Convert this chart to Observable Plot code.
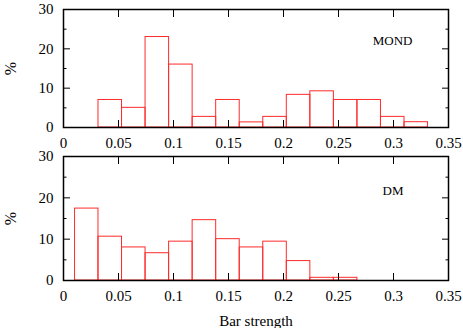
<!DOCTYPE html>
<html>
<head>
<meta charset="utf-8">
<script src="https://cdn.jsdelivr.net/npm/d3@7"></script>
<script src="https://cdn.jsdelivr.net/npm/@observablehq/plot@0.6"></script>
<style>
  body { margin: 0; background: white; }
  #chart svg { display: block; }
</style>
</head>
<body>
<div id="chart"></div>
<script>
// Histogram bin edges (bar strength)
const binEdges = [0.0105, 0.0318, 0.0532, 0.0746, 0.096, 0.1174, 0.1388, 0.1602, 0.1816, 0.203, 0.2244, 0.2458, 0.2672, 0.2886, 0.31, 0.3314];
// Percentages per bin
const mondPct = [0, 7.0, 5.0, 23.0, 16.0, 2.7, 7.0, 1.3, 2.7, 8.3, 9.2, 7.0, 7.0, 2.7, 1.35];
const dmPct   = [17.4, 10.6, 8.0, 6.6, 9.4, 14.6, 10.0, 8.0, 9.4, 4.7, 0.65, 0.65, 0, 0, 0];
const panelLabels = ["MOND", "DM"];
const xTicks = [0, 0.05, 0.1, 0.15, 0.2, 0.25, 0.3, 0.35];
const xTickLabels = ["0", "0.05", "0.1", "0.15", "0.2", "0.25", "0.3", "0.35"];
const yMajor = [0, 10, 20, 30];
const yMinor = [5, 15, 25];
const yLabel = "%";
const xLabel = "Bar strength";

function bins(pcts) {
  return pcts.map((v, i) => ({lo: binEdges[i], hi: binEdges[i + 1], v})).filter(d => d.v > 0);
}

const RED = "#ff2b2b";
const FONT = "'Liberation Serif', 'Times New Roman', serif";

function panel(pcts, name, {height, marginTop, marginBottom, bottomLabel, nameDx, nameDy}) {
  const marks = [
    Plot.rectY(bins(pcts), {x1: "lo", x2: "hi", y1: 0, y2: "v", fill: "none", stroke: RED, strokeWidth: 1}),
    Plot.frame({stroke: "black", strokeWidth: 1.5}),
    // inward ticks
    Plot.axisX({anchor: "bottom", ticks: xTicks, tickSize: 7, dy: -7, fill: "none", label: null}),
    Plot.axisX({anchor: "top", ticks: xTicks, tickSize: 7, dy: 7, fill: "none", label: null}),
    Plot.axisY({anchor: "left", ticks: yMajor, tickSize: 7, dx: 7, fill: "none", label: null}),
    Plot.axisY({anchor: "right", ticks: yMajor, tickSize: 7, dx: -7, fill: "none", label: null}),
    Plot.axisY({anchor: "left", ticks: yMinor, tickSize: 3.5, dx: 3.5, fill: "none", label: null}),
    Plot.axisY({anchor: "right", ticks: yMinor, tickSize: 3.5, dx: -3.5, fill: "none", label: null}),
    // labels
    Plot.axisX({anchor: "bottom", ticks: xTicks, tickSize: 0, tickPadding: 10, tickFormat: (d, i) => xTickLabels[i], label: null}),
    Plot.axisY({anchor: "left", ticks: yMajor, tickSize: 0, tickPadding: 10, label: null}),
    Plot.text([yLabel], {frameAnchor: "left", dx: -53, rotate: -90, textAnchor: "middle", lineAnchor: "middle", fontSize: 16}),
    Plot.text([name], {frameAnchor: "top-right", dx: nameDx, dy: nameDy, textAnchor: "end", lineAnchor: "bottom", fontSize: 13})
  ];
  if (bottomLabel) {
    marks.push(Plot.text([xLabel], {frameAnchor: "bottom", dy: 45, textAnchor: "middle", lineAnchor: "bottom", fontSize: 15}));
  }
  return Plot.plot({
    width: 463,
    height,
    marginLeft: 63,
    marginRight: 15,
    marginTop,
    marginBottom,
    style: {fontFamily: FONT, fontSize: "15px", background: "white", color: "black", overflow: "visible"},
    x: {domain: [0, 0.35]},
    y: {domain: [0, 30]},
    marks
  });
}

const chart = document.getElementById("chart");
chart.appendChild(panel(mondPct, panelLabels[0], {height: 150, marginTop: 9, marginBottom: 23, nameDx: -36, nameDy: 35}));
chart.appendChild(panel(dmPct, panelLabels[1], {height: 178, marginTop: 6, marginBottom: 48, bottomLabel: true, nameDx: -45, nameDy: 38}));
</script>
</body>
</html>
